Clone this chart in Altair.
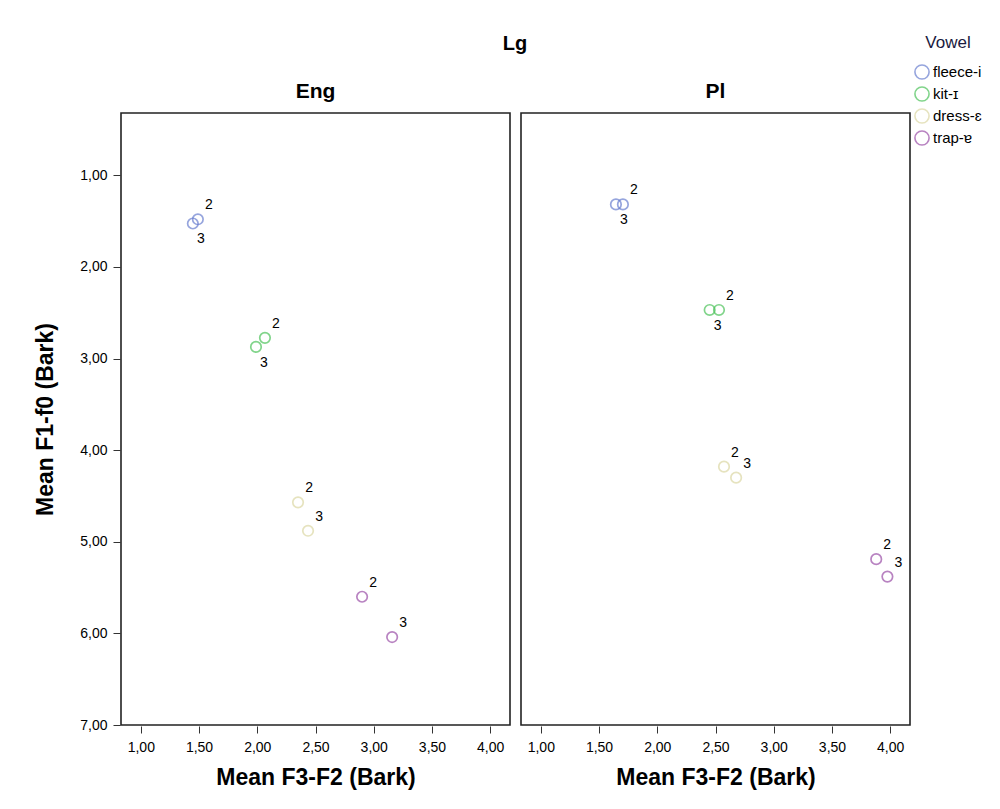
import altair as alt
import pandas as pd

langs = ["Eng"] * 8 + ["Pl"] * 8
vowels = ["fleece-i", "fleece-i", "kit-ɪ", "kit-ɪ", "dress-ɛ", "dress-ɛ", "trap-ɐ", "trap-ɐ"] * 2
labels = ["2", "3"] * 8
f3f2 = [1.49, 1.447, 2.066, 1.989, 2.35, 2.436, 2.90, 3.158,
        1.705, 1.645, 2.53, 2.45, 2.573, 2.677, 3.88, 3.976]
f1f0 = [1.48, 1.526, 2.774, 2.873, 4.57, 4.88, 5.60, 6.04,
        1.318, 1.318, 2.47, 2.47, 4.18, 4.30, 5.19, 5.38]

vowel_order = ["fleece-i", "kit-ɪ", "dress-ɛ", "trap-ɐ"]
vowel_colors = ["#6a7fd0", "#4cc35a", "#dcd8a4", "#9b4fa8"]

df = pd.DataFrame({"lang": langs, "vowel": vowels, "label": labels,
                   "x": f3f2, "y": f1f0})
front = df["vowel"].isin(["fleece-i", "kit-ɪ"])
df["pos"] = "upper"
df.loc[front & (df["label"] == "3"), "pos"] = "below"

fmt = "replace(format(datum.value, '.2f'), '.', ',')"

x_enc = alt.X("x:Q", scale=alt.Scale(domain=[0.83, 4.17], nice=False, zero=False),
              axis=alt.Axis(values=[1, 1.5, 2, 2.5, 3, 3.5, 4], labelExpr=fmt,
                            title="Mean F3-F2 (Bark)"))
y_enc = alt.Y("y:Q", scale=alt.Scale(domain=[0.32, 7], nice=False, zero=False, reverse=True),
              axis=alt.Axis(values=[1, 2, 3, 4, 5, 6, 7], labelExpr=fmt,
                            title="Mean F1-f0 (Bark)"))

base = alt.Chart(df)

points = base.mark_point(shape="circle", filled=False, size=110, strokeWidth=1.7).encode(
    x=x_enc, y=y_enc,
    color=alt.Color("vowel:N", sort=vowel_order,
                    scale=alt.Scale(domain=vowel_order, range=vowel_colors),
                    legend=alt.Legend(title="Vowel", orient="none", legendX=793, legendY=-78,
                                      symbolSize=200, symbolStrokeWidth=1.6,
                                      labelFontSize=15, titleFontSize=17,
                                      titleFontWeight="normal", rowPadding=0,
                                      titlePadding=12, titleColor="#1a1a40",
                                      titleAnchor="middle", labelColor="black",
                                      labelOffset=3))
)

upper = base.mark_text(dx=11, dy=-14, fontSize=14, color="black").encode(
    x="x:Q", y="y:Q", text="label:N"
).transform_filter(alt.datum.pos == "upper")

below = base.mark_text(dx=8, dy=16, fontSize=14, color="black").encode(
    x="x:Q", y="y:Q", text="label:N"
).transform_filter(alt.datum.pos == "below")

chart = alt.layer(points, upper, below).properties(width=389, height=612).facet(
    column=alt.Column("lang:N", sort=["Eng", "Pl"], title="Lg",
                      header=alt.Header(titleFontSize=20, titleFontWeight="bold",
                                        titleColor="black", titlePadding=17,
                                        labelFontSize=21, labelFontWeight="bold",
                                        labelPadding=10, labelColor="black"))
).properties(
    spacing=9,
    padding={"left": 26, "top": 26, "right": 5, "bottom": 5},
).configure(
    font="Liberation Sans"
).configure_view(
    stroke="#222", strokeWidth=1.6
).configure_axis(
    grid=False, domain=False, tickColor="#333", tickSize=7, labelFontSize=14,
    labelColor="black", titleFontSize=23, titleFontWeight="bold", titleColor="black",
).configure_axisX(titlePadding=12, labelPadding=7).configure_axisY(titlePadding=22, labelPadding=6)

chart.save("out.html", embed_options={"renderer": "svg", "actions": False})
